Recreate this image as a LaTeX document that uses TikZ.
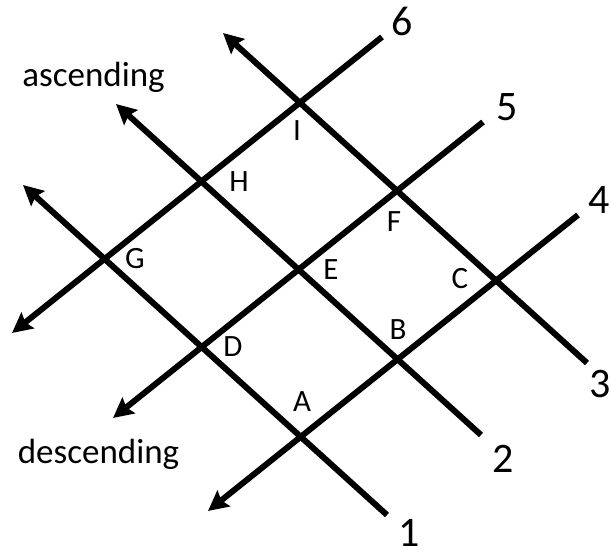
\documentclass[tikz,border=0pt]{standalone}
\usepackage{fontspec}
\setmainfont{Carlito}
\usetikzlibrary{arrows.meta}
\begin{document}
\begin{tikzpicture}[x=1pt,y=-1pt,
  gridline/.style={line width=6pt,black},
  arrline/.style={gridline,-{Stealth[length=20pt,width=20pt,inset=3pt]}},
  ptlabel/.style={font=\fontsize{31}{31}\selectfont,inner sep=0pt},
  numlabel/.style={font=\fontsize{42}{42}\selectfont,inner sep=0pt},
  wordlabel/.style={font=\fontsize{35}{35}\selectfont,inner sep=0pt}]
\useasboundingbox (0,0) rectangle (611,556);
% end points of the lines
\coordinate (s6) at (382,37);  \coordinate (t6) at (12,333);
\coordinate (s5) at (483,122); \coordinate (t5) at (113,418);
\coordinate (s4) at (578,215); \coordinate (t4) at (208,511);
\coordinate (s1) at (387,515); \coordinate (t1) at (23,185);
\coordinate (s2) at (481,435); \coordinate (t2) at (116,104);
\coordinate (s3) at (587,363); \coordinate (t3) at (223,33);
% lines
\draw[arrline] (s6) -- (t6);
\draw[arrline] (s5) -- (t5);
\draw[arrline] (s4) -- (t4);
\draw[arrline] (s1) -- (t1);
\draw[arrline] (s2) -- (t2);
\draw[arrline] (s3) -- (t3);
% number labels
\node[numlabel] (n6) at (402.5,21.5) {6};
\node[numlabel] (n5) at (507,107) {5};
\node[numlabel] (n4) at (599,200) {4};
\node[numlabel] (n3) at (600,384) {3};
\node[numlabel] (n2) at (503.5,459) {2};
\node[numlabel] (n1) at (409.5,533) {1};
% point labels
\node[ptlabel] (lI) at (297,131) {I};
\node[ptlabel] (lH) at (239,182) {H};
\node[ptlabel] (lG) at (135,259) {G};
\node[ptlabel] (lF) at (394,222) {F};
\node[ptlabel] (lE) at (331,270) {E};
\node[ptlabel] (lC) at (460,279) {C};
\node[ptlabel] (lD) at (233,347) {D};
\node[ptlabel] (lB) at (398,330) {B};
\node[ptlabel] (lA) at (302,402) {A};
% words
\node[wordlabel] (asc) at (93.5,77.5) {ascending};
\node[wordlabel] (desc) at (98.5,454.5) {descending};
\end{tikzpicture}
\end{document}
